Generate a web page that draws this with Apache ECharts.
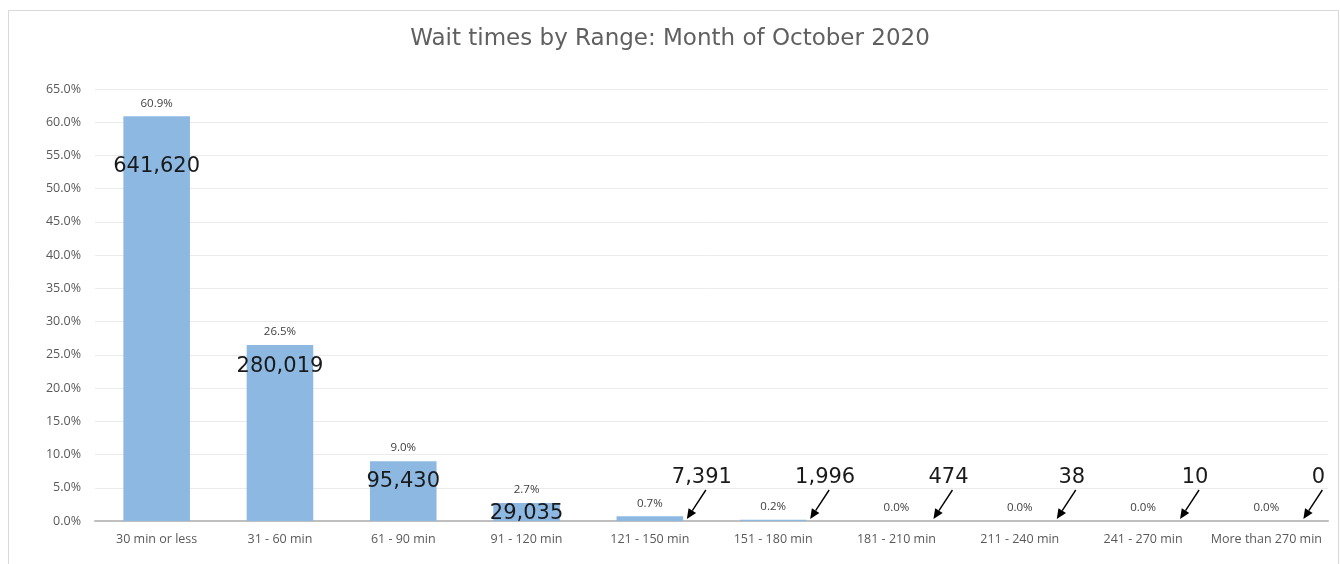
<!DOCTYPE html>
<html>
<head>
<meta charset="utf-8">
<script src="https://cdn.jsdelivr.net/npm/echarts@6/dist/echarts.min.js"></script>
<style>
  html, body { margin: 0; padding: 0; background: #fff; }
  #chart { width: 1340px; height: 564px; }
</style>
</head>
<body>
<div id="chart"></div>
<script>
// wait time ranges
const categories = ['30 min or less', '31 - 60 min', '61 - 90 min', '91 - 120 min', '121 - 150 min',
  '151 - 180 min', '181 - 210 min', '211 - 240 min', '241 - 270 min', 'More than 270 min']
// share of calls (%)
const percents = [60.9, 26.5, 9.0, 2.7, 0.7, 0.2, 0.0, 0.0, 0.0, 0.0]
// number of calls
const counts = [641620, 280019, 95430, 29035, 7391, 1996, 474, 38, 10, 0]

// where the count sits inside the tall bars (px under the bar top)
const insideDy = [50, 22, 20, 10]

const gothic = '"DejaVu Sans", sans-serif'
const calibri = '"Open Sans", "Liberation Sans", sans-serif'

const chart = echarts.init(document.getElementById('chart'))

const option = {
  animation: false,
  backgroundColor: '#fff',
  title: {
    text: 'Wait times by Range: Month of October 2020',
    left: 'center',
    top: 23,
    textStyle: { fontFamily: gothic, fontSize: 23, fontWeight: 'normal', color: '#606060' }
  },
  graphic: [{
    type: 'rect',
    shape: { x: 8.5, y: 10.5, width: 1330, height: 560 },
    style: { fill: 'none', stroke: '#d9d9d9', lineWidth: 1 },
    silent: true
  }],
  grid: { left: 95, right: 12, top: 89, bottom: 43 },
  xAxis: {
    type: 'category',
    data: categories,
    axisTick: { show: false },
    axisLine: { lineStyle: { color: '#bfbfbf', width: 2 } },
    axisLabel: { fontFamily: calibri, fontSize: 12.5, color: '#595959', margin: 12, interval: 0 }
  },
  yAxis: {
    type: 'value',
    min: 0,
    max: 65,
    interval: 5,
    axisLine: { show: false },
    axisTick: { show: false },
    splitLine: { lineStyle: { color: '#ebebeb' } },
    axisLabel: {
      fontFamily: calibri, fontSize: 12.5, color: '#595959', margin: 14,
      formatter: v => v.toFixed(1) + '%'
    }
  },
  series: [
    {
      type: 'bar',
      data: percents,
      barWidth: '54%',
      barMinHeight: 0,
      itemStyle: { color: '#8cb8e2' },
      label: {
        show: true,
        position: 'top',
        distance: 7,
        fontFamily: calibri,
        fontSize: 11.5,
        color: '#404040',
        formatter: p => p.value.toFixed(1) + '%'
      },
      z: 2
    },
    {
      type: 'custom',
      data: counts.map((c, i) => [i, percents[i], c]),
      z: 5,
      silent: true,
      renderItem (params, api) {
        const i = api.value(0)
        const top = api.coord([i, api.value(1)])
        const base = api.coord([i, 0])
        const text = api.value(2).toLocaleString('en-US')
        const font = '21px ' + gothic
        if (i < insideDy.length) {
          return {
            type: 'text',
            style: {
              text, x: top[0], y: top[1] + insideDy[i],
              align: 'center', verticalAlign: 'middle',
              font, fill: '#1a1a1a'
            }
          }
        }
        const tip = [base[0] + 37, base[1] - 2]
        const tail = [base[0] + 56, base[1] - 31]
        const ang = Math.atan2(tip[1] - tail[1], tip[0] - tail[0])
        const hl = 10
        const hw = 4.5
        const back = [tip[0] - hl * Math.cos(ang), tip[1] - hl * Math.sin(ang)]
        const nx = -Math.sin(ang)
        const ny = Math.cos(ang)
        return {
          type: 'group',
          children: [
            {
              type: 'line',
              shape: { x1: tail[0], y1: tail[1], x2: back[0], y2: back[1] },
              style: { stroke: '#000', lineWidth: 1.4 }
            },
            {
              type: 'polygon',
              shape: {
                points: [tip, [back[0] + nx * hw, back[1] + ny * hw], [back[0] - nx * hw, back[1] - ny * hw]]
              },
              style: { fill: '#000' }
            },
            {
              type: 'text',
              style: {
                text, x: base[0] + 52, y: base[1] - 43,
                align: 'center', verticalAlign: 'middle',
                font, fill: '#1a1a1a'
              }
            }
          ]
        }
      }
    }
  ]
}

chart.setOption(option)
</script>
</body>
</html>
